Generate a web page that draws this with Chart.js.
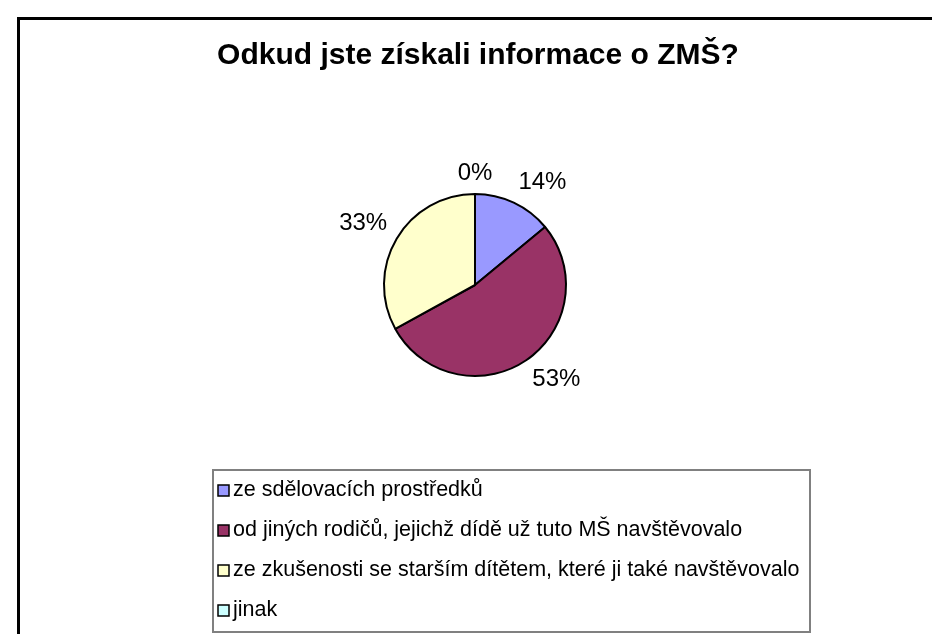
<!DOCTYPE html>
<html>
<head>
<meta charset="utf-8">
<title>Odkud jste získali informace o ZMŠ?</title>
<script src="https://cdn.jsdelivr.net/npm/chart.js@4.4.0/dist/chart.umd.min.js"></script>
<style>
  html, body { margin: 0; padding: 0; background: #fff; }
  canvas { display: block; }
</style>
</head>
<body>
<canvas id="pie" width="932" height="634"></canvas>
<script>
// chart data
const chartTitle = "Odkud jste získali informace o ZMŠ?";
const categories = [
  "ze sdělovacích prostředků",
  "od jiných rodičů, jejichž dídě už tuto MŠ navštěvovalo",
  "ze zkušenosti se starším dítětem, které ji také navštěvovalo",
  "jinak"
];
const percents = [14, 53, 33, 0];
const sliceColors = ["#9999FF", "#993366", "#FFFFCC", "#CCFFFF"];

const FONT = "'Liberation Sans', Arial, Helvetica, sans-serif";

// frame of the chart area (cut off right and bottom) + title
const frameTitle = {
  id: 'frameTitle',
  beforeDraw(chart) {
    const ctx = chart.ctx;
    ctx.save();
    ctx.fillStyle = '#fff';
    ctx.fillRect(0, 0, chart.width, chart.height);
    ctx.strokeStyle = '#000';
    ctx.lineWidth = 3;
    ctx.beginPath();
    ctx.moveTo(18.5, chart.height);
    ctx.lineTo(18.5, 18.5);
    ctx.lineTo(chart.width, 18.5);
    ctx.stroke();
    ctx.fillStyle = '#000';
    ctx.font = 'bold 30px ' + FONT;
    ctx.textAlign = 'center';
    ctx.textBaseline = 'middle';
    ctx.fillText(chartTitle, 478, 56);
    ctx.restore();
  }
};

// percentage labels outside each slice
const pctLabels = {
  id: 'pctLabels',
  afterDatasetsDraw(chart) {
    const ctx = chart.ctx;
    const meta = chart.getDatasetMeta(0);
    const values = chart.data.datasets[0].data;
    const total = values.reduce((a, b) => a + b, 0);
    ctx.save();
    ctx.font = '24px ' + FONT;
    ctx.fillStyle = '#000';
    ctx.textAlign = 'center';
    ctx.textBaseline = 'middle';
    meta.data.forEach((arc, i) => {
      const p = arc.getProps(['x', 'y', 'startAngle', 'endAngle', 'outerRadius'], true);
      const mid = (p.startAngle + p.endAngle) / 2;
      const txt = Math.round(values[i] / total * 100) + '%';
      const w = ctx.measureText(txt).width;
      const h = 20;
      const d = p.outerRadius + 11;
      const cos = Math.cos(mid), sin = Math.sin(mid);
      const kx = Math.max(-1, Math.min(1, cos * 3));
      const ky = Math.max(-1, Math.min(1, sin * 3));
      ctx.fillText(txt, p.x + cos * d + kx * w / 2, p.y + sin * d + ky * h / 2);
    });
    ctx.restore();
  }
};

// boxed vertical legend at the bottom
const boxLegend = {
  id: 'boxLegend',
  afterDraw(chart) {
    const ctx = chart.ctx;
    const ds = chart.data.datasets[0];
    ctx.save();
    ctx.strokeStyle = '#808080';
    ctx.lineWidth = 2;
    ctx.strokeRect(213, 470, 597, 162);
    ctx.font = '21.5px ' + FONT;
    ctx.textBaseline = 'middle';
    ctx.textAlign = 'left';
    chart.data.labels.forEach((lab, i) => {
      const y = 490 + i * 40;
      ctx.fillStyle = ds.backgroundColor[i];
      ctx.fillRect(218, y - 5, 11, 11);
      ctx.strokeStyle = '#000';
      ctx.lineWidth = 1.5;
      ctx.strokeRect(218, y - 5, 11, 11);
      ctx.fillStyle = '#000';
      ctx.fillText(lab, 233, y);
    });
    ctx.restore();
  }
};

new Chart(document.getElementById('pie'), {
  type: 'pie',
  data: {
    labels: categories,
    datasets: [{
      data: percents,
      backgroundColor: sliceColors,
      borderColor: '#000',
      borderWidth: 2
    }]
  },
  options: {
    responsive: false,
    animation: false,
    radius: 91,
    layout: { padding: { left: 365, right: 347, top: 152, bottom: 216 } },
    plugins: {
      legend: { display: false },
      title: { display: false },
      tooltip: { enabled: false }
    }
  },
  plugins: [frameTitle, pctLabels, boxLegend]
});
</script>
</body>
</html>
